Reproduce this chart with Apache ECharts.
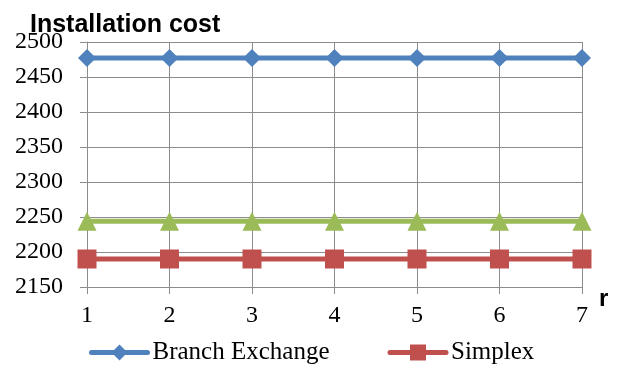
<!DOCTYPE html>
<html>
<head>
<meta charset="utf-8">
<script src="https://cdn.jsdelivr.net/npm/echarts@6/dist/echarts.min.js"></script>
<style>
html,body{margin:0;padding:0;background:#fff;}
#chart{width:618px;height:365px;}
</style>
</head>
<body>
<div id="chart"></div>
<script>
// r values on the horizontal axis
var rValues = ['1', '2', '3', '4', '5', '6', '7'];
// installation cost per method
var branchExchange = [2477, 2477, 2477, 2477, 2477, 2477, 2477];
var thirdMethod = [2244, 2244, 2244, 2244, 2244, 2244, 2244];
var simplex = [2190, 2190, 2190, 2190, 2190, 2190, 2190];
var yMin = 2150, yMax = 2500, yStep = 50;

var serif = '"Liberation Serif", "Times New Roman", serif';
var sans = '"Liberation Sans", Arial, sans-serif';
var gridColor = '#8c8c8c';

var chart = echarts.init(document.getElementById('chart'));
chart.setOption({
  animation: false,
  backgroundColor: '#fff',
  title: {
    text: 'Installation cost',
    left: 25, top: 8,
    textStyle: { fontFamily: sans, fontWeight: 'bold', fontSize: 25, color: '#000' }
  },
  legend: {
    data: ['Branch Exchange', 'Simplex'],
    left: 84, top: 335,
    itemWidth: 56, itemHeight: 20, itemGap: 58,
    lineStyle: { width: 5, cap: 'round' },
    textStyle: { fontFamily: serif, fontSize: 25, color: '#000' }
  },
  grid: { left: 87, right: 36, top: 42, bottom: 78, containLabel: false },
  xAxis: {
    type: 'category',
    data: rValues,
    boundaryGap: false,
    name: 'r',
    nameLocation: 'end',
    nameGap: 17,
    nameTextStyle: { fontFamily: sans, fontWeight: 'bold', fontSize: 24, color: '#000', verticalAlign: 'top' },
    axisLine: { lineStyle: { color: gridColor, width: 1 } },
    axisTick: { show: true, length: 7, alignWithLabel: true, lineStyle: { color: gridColor } },
    axisLabel: { fontFamily: serif, fontSize: 24, color: '#000', margin: 17 },
    splitLine: { show: true, lineStyle: { color: gridColor, width: 1 } }
  },
  yAxis: {
    type: 'value',
    min: yMin, max: yMax, interval: yStep,
    axisLine: { show: true, lineStyle: { color: gridColor, width: 1 } },
    axisTick: { show: true, length: 7, lineStyle: { color: gridColor } },
    axisLabel: { fontFamily: serif, fontSize: 24, color: '#000', margin: 24, formatter: function (v) { return String(v); } },
    splitLine: { show: true, lineStyle: { color: gridColor, width: 1 } }
  },
  series: [
    {
      name: 'Branch Exchange', type: 'line', data: branchExchange,
      symbol: 'diamond', symbolSize: 18,
      lineStyle: { color: '#4f81bd', width: 5 },
      itemStyle: { color: '#4f81bd' }
    },
    {
      name: 'Simplex', type: 'line', data: simplex,
      symbol: 'rect', symbolSize: 19,
      lineStyle: { color: '#c0504d', width: 5 },
      itemStyle: { color: '#c0504d' }
    },
    {
      name: 'Third method', type: 'line', data: thirdMethod,
      symbol: 'triangle', symbolSize: 19,
      lineStyle: { color: '#9bbb59', width: 5 },
      itemStyle: { color: '#9bbb59' }
    }
  ]
});
</script>
</body>
</html>
